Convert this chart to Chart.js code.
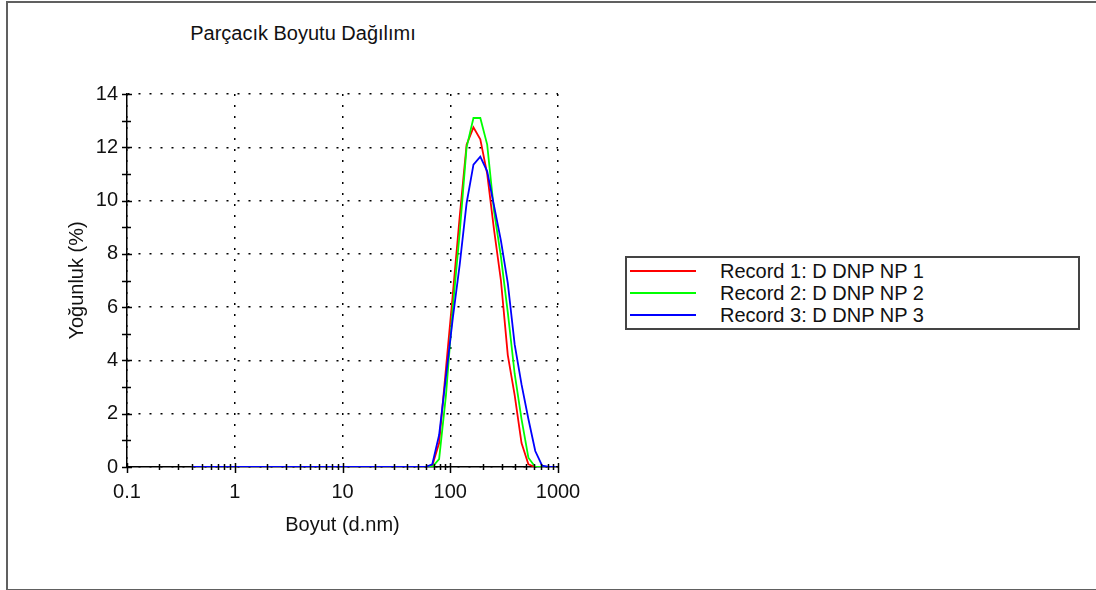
<!DOCTYPE html>
<html>
<head>
<meta charset="utf-8">
<title>Parçacık Boyutu Dağılımı</title>
<script src="https://cdn.jsdelivr.net/npm/chart.js@4"></script>
<style>
    html, body { margin: 0; padding: 0; background: #fff; }
    body {
        width: 1096px; height: 590px; position: relative; overflow: hidden;
        font-family: "Liberation Sans", Arial, sans-serif; color: #111;
    }
    .frame {
        position: absolute; left: 6px; top: 1px;
        width: 1200px; height: 586px;
        border: 2px solid #606060;
    }
    .chart-box { position: absolute; left: 0; top: 0; width: 606px; height: 590px; }
    .chart-title {
        position: absolute; left: 0; top: 21px; width: 606px;
        text-align: center; font-size: 20px; line-height: 24px;
    }
    .legend {
        position: absolute; left: 625px; top: 256px;
        width: 451px; height: 70px;
        border: 2px solid #444;
    }
    .legend-row { position: absolute; left: 0; width: 100%; height: 22px; }
    .legend-line { position: absolute; left: 3px; top: 10px; width: 66px; height: 2px; }
    .legend-text { position: absolute; left: 93px; top: 0; font-size: 20px; line-height: 22px; white-space: nowrap; }
</style>
</head>
<body>

<div class="frame"></div>
<div class="chart-title" id="chartTitle"></div>
<div class="chart-box"><canvas id="sizeChart"></canvas></div>
<div class="legend" id="legendBox"></div>

<script>
/* =========================
   DATA
========================= */

const chartTitle = 'Parçacık Boyutu Dağılımı';
const xAxisTitle = 'Boyut (d.nm)';
const yAxisTitle = 'Yoğunluk (%)';

// size classes (d.nm)
const sizes = [
    0.4, 0.4632, 0.5365, 0.6213, 0.7195, 0.8332, 0.9649, 1.117, 1.294, 1.499,
    1.736, 2.01, 2.328, 2.696, 3.122, 3.615, 4.187, 4.849, 5.615, 6.503,
    7.531, 8.721, 10.1, 11.7, 13.54, 15.69, 18.17, 21.04, 24.36, 28.21,
    32.67, 37.84, 43.82, 50.75, 58.77, 68.06, 78.82, 91.28, 105.7, 122.4,
    141.8, 164.2, 190.1, 220.2, 255.0, 295.3, 342.0, 396.1, 458.7, 531.2,
    615.1, 712.4, 825.0, 955.4
];

const record1 = [
    0, 0, 0, 0, 0, 0, 0, 0, 0, 0,
    0, 0, 0, 0, 0, 0, 0, 0, 0, 0,
    0, 0, 0, 0, 0, 0, 0, 0, 0, 0,
    0, 0, 0, 0, 0, 0.05, 0.9, 3.7, 6.5, 9.4,
    12.1, 12.75, 12.3, 11.0, 8.9, 7.0, 4.2, 2.7, 0.9, 0.1,
    0, 0, 0, 0
];

const record2 = [
    0, 0, 0, 0, 0, 0, 0, 0, 0, 0,
    0, 0, 0, 0, 0, 0, 0, 0, 0, 0,
    0, 0, 0, 0, 0, 0, 0, 0, 0, 0,
    0, 0, 0, 0, 0, 0, 0.3, 2.7, 6.0, 8.8,
    12.0, 13.1, 13.1, 12.1, 9.6, 7.9, 5.8, 3.5, 1.8, 0.35,
    0, 0, 0, 0
];

const record3 = [
    0, 0, 0, 0, 0, 0, 0, 0, 0, 0,
    0, 0, 0, 0, 0, 0, 0, 0, 0, 0,
    0, 0, 0, 0, 0, 0, 0, 0, 0, 0,
    0, 0, 0, 0, 0, 0.1, 1.2, 3.4, 5.6, 7.6,
    9.9, 11.35, 11.65, 11.1, 9.8, 8.5, 6.9, 4.6, 3.1, 1.8,
    0.6, 0.05, 0, 0
];

const seriesNames = ['Record 1: D DNP NP 1', 'Record 2: D DNP NP 2', 'Record 3: D DNP NP 3'];
const seriesColors = ['#ff0000', '#00ff00', '#0000ff'];
const seriesValues = [record1, record2, record3];

const xTickValues = [0.1, 1, 10, 100, 1000];
const xTickLabels = ['0.1', '1', '10', '100', '1000'];
const yTickValues = [0, 2, 4, 6, 8, 10, 12, 14];
const yTickLabels = ['0', '2', '4', '6', '8', '10', '12', '14'];

/* =========================
   HELPERS
========================= */

function isDecade(v){
    if (!v) return false;
    const l = Math.log10(v);
    return Math.abs(l - Math.round(l)) < 1e-6;
}

function xLabel(v){
    const i = xTickValues.findIndex(t => Math.abs(t - v) < t * 1e-6);
    return i >= 0 ? xTickLabels[i] : '';
}

function yLabel(v){
    const i = yTickValues.indexOf(v);
    return i >= 0 ? yTickLabels[i] : '';
}

// minor tick positions: 1..9 in each decade
const xMinorTicks = [];
xTickValues.forEach(function(d, i){
    if (i === xTickValues.length - 1) { xMinorTicks.push(d); return; }
    for (let k = 1; k <= 9; k++) xMinorTicks.push(+(d * k).toPrecision(6));
});

/* =========================
   TITLE + LEGEND (html)
========================= */

document.getElementById('chartTitle').textContent = chartTitle;

const legendBox = document.getElementById('legendBox');
seriesNames.forEach(function(name, i){
    const row = document.createElement('div');
    row.className = 'legend-row';
    row.style.top = (2 + i * 22) + 'px';

    const line = document.createElement('div');
    line.className = 'legend-line';
    line.style.background = seriesColors[i];

    const txt = document.createElement('div');
    txt.className = 'legend-text';
    txt.textContent = name;

    row.appendChild(line);
    row.appendChild(txt);
    legendBox.appendChild(row);
});

/* =========================
   CROSSING TICKS
========================= */

const crossTicks = {
    id: 'crossTicks',
    afterDatasetsDraw(chart){
        const {ctx, chartArea} = chart;
        const xs = chart.scales.x;
        const ys = chart.scales.y;

        ctx.save();
        ctx.strokeStyle = '#000';
        ctx.lineWidth = 1.5;
        ctx.beginPath();

        xs.ticks.forEach(function(t){
            const px = Math.round(xs.getPixelForValue(t.value)) + 0.5;
            const big = isDecade(t.value);
            ctx.moveTo(px, chartArea.bottom - (big ? 4 : 3));
            ctx.lineTo(px, chartArea.bottom + (big ? 6 : 3));
        });

        ys.ticks.forEach(function(t){
            const py = Math.round(ys.getPixelForValue(t.value)) + 0.5;
            const big = t.value % 2 === 0;
            ctx.moveTo(chartArea.left - 5, py);
            ctx.lineTo(chartArea.left + (big ? 5 : 4), py);
        });

        ctx.stroke();
        ctx.restore();
    }
};

/* =========================
   CHART
========================= */

Chart.defaults.font.family = '"Liberation Sans", Arial, sans-serif';
Chart.defaults.font.size = 20;
Chart.defaults.color = '#111';

new Chart(document.getElementById('sizeChart'), {
    type: 'line',

    data: {
        datasets: seriesNames.map(function(name, i){
            return {
                label: name,
                data: sizes.map((s, k) => ({x: s, y: seriesValues[i][k]})),
                borderColor: seriesColors[i],
                backgroundColor: seriesColors[i],
                borderWidth: 1.8,
                pointRadius: 0,
                tension: 0,
                fill: false,
                order: seriesNames.length - 1 - i
            };
        })
    },

    options: {
        responsive: true,
        maintainAspectRatio: false,
        animation: false,
        layout: {
            padding: {top: 94, right: 48, bottom: 23, left: 0}
        },

        plugins: {
            legend: {display: false},
            title: {display: false},
            tooltip: {enabled: false}
        },

        scales: {
            x: {
                type: 'logarithmic',
                min: 0.1,
                max: 1000,
                afterBuildTicks: function(scale){
                    scale.ticks = xMinorTicks.map(v => ({value: v}));
                },
                afterFit: function(scale){ scale.height = 100; },
                border: {display: true, color: '#000', width: 1.5, dash: [2, 9]},
                grid: {
                    color: c => (c.tick && isDecade(c.tick.value)) ? '#000' : 'rgba(0,0,0,0)',
                    lineWidth: 1.5,
                    drawTicks: false
                },
                ticks: {
                    autoSkip: false,
                    maxRotation: 0,
                    padding: 13,
                    callback: v => xLabel(v)
                },
                title: {
                    display: true,
                    text: xAxisTitle,
                    padding: {top: 4, bottom: 30}
                }
            },

            y: {
                min: 0,
                max: 14,
                afterFit: function(scale){ scale.width = 127; },
                border: {display: true, color: '#000', width: 1.5, dash: [2, 9]},
                grid: {
                    color: c => (c.tick && c.tick.value % 2 === 0) ? '#000' : 'rgba(0,0,0,0)',
                    lineWidth: 1.5,
                    drawTicks: false
                },
                ticks: {
                    stepSize: 1,
                    autoSkip: false,
                    padding: 9,
                    callback: v => yLabel(v)
                },
                title: {
                    display: true,
                    text: yAxisTitle,
                    padding: {top: 65, bottom: 4}
                }
            }
        }
    },

    plugins: [crossTicks]
});
</script>
</body>
</html>
